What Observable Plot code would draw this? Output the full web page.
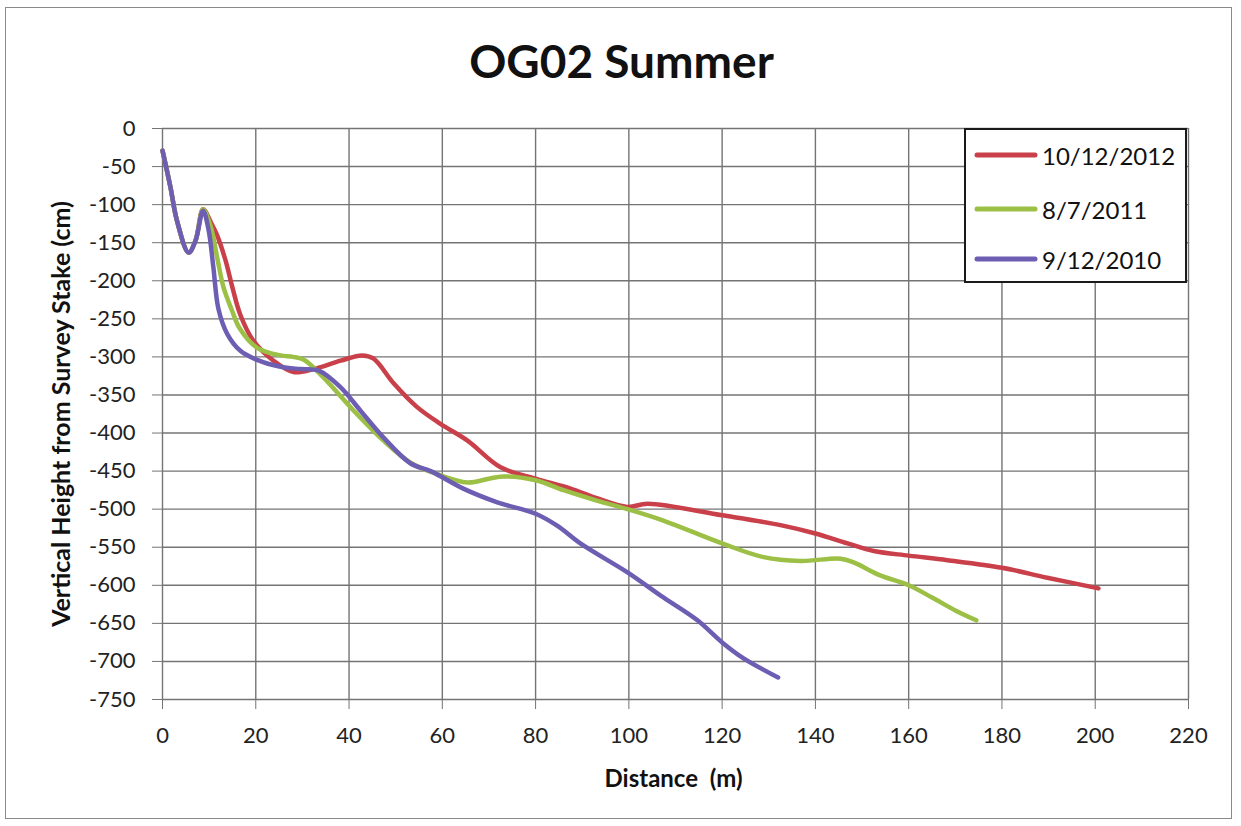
<!DOCTYPE html>
<html>
<head>
<meta charset="utf-8">
<script src="https://cdn.jsdelivr.net/npm/d3@7"></script>
<script src="https://cdn.jsdelivr.net/npm/@observablehq/plot@0.6"></script>
<style>
  html, body { margin: 0; padding: 0; background: #fff; }
  #wrap { position: relative; width: 1241px; height: 826px; font-family: Lato, "Open Sans", sans-serif; }
  #outer { position: absolute; left: 5px; top: 7px; width: 1227px; height: 812px; border: 1px solid #8a8a8a; box-sizing: border-box; }
  #chart { position: absolute; left: 0; top: 0; }
  #legend { position: absolute; left: 964px; top: 128px; width: 223px; height: 155px; border: 2px solid #1a1a1a; background: #fff; box-sizing: border-box; }
  .item { position: absolute; left: 8px; height: 30px; display: flex; align-items: center; font-size: 24px; color: #111; }
  .item svg { margin-right: 4px; }
</style>
</head>
<body>
<div id="wrap">
  <div id="outer"></div>
  <div id="chart"></div>
  <div id="legend"></div>
</div>
<script>
const title = "OG02 Summer";
const xLabel = "Distance\u00A0\u00A0(m)";
const yLabel = "Vertical Height from Survey Stake (cm)";
const xTicks = [0, 20, 40, 60, 80, 100, 120, 140, 160, 180, 200, 220];
const yTicks = [0, -50, -100, -150, -200, -250, -300, -350, -400, -450, -500, -550, -600, -650, -700, -750];
const seriesNames = ["10/12/2012", "8/7/2011", "9/12/2010"];
const seriesColors = ["#c9404a", "#9cbf45", "#6d5eb3"];

const s2012 = [[0,-29],[1.7,-77],[3.1,-121],[5.6,-163],[7.1,-147],[8.7,-106],[10.5,-125],[11.7,-140],[13.5,-173],[15,-209],[16.7,-245],[19.5,-279],[23.8,-305],[28.1,-320],[32.4,-316],[38.2,-305],[42.8,-298],[45.2,-302],[49.6,-335],[54.6,-366],[59.6,-388],[65.4,-410],[72.5,-445],[80,-460],[87.5,-473],[93.3,-486],[99.7,-497],[104,-493],[120,-508],[132.5,-521],[140,-532],[146.9,-545],[152.5,-555],[160,-561],[168.3,-567],[180,-577],[189.7,-590],[200.7,-604]];
const s2011 = [[0,-29],[1.7,-77],[3.1,-121],[5.6,-163],[7.1,-147],[8.7,-106],[10.4,-130],[11.8,-172],[13.1,-209],[14.9,-239],[16.5,-262],[20.3,-288],[25.3,-298],[28,-300],[30.4,-304],[34.5,-327],[40.3,-366],[47.4,-410],[53.2,-439],[58.9,-454],[65.4,-465],[70,-460],[73.1,-457],[80,-462],[86,-475],[93.3,-489],[99.7,-500],[107.4,-515],[120,-545],[128.9,-563],[136.8,-568],[145.4,-565],[148.2,-570],[153.9,-587],[160,-600],[165,-616],[170,-633],[174.5,-646]];
const s2010 = [[0,-29],[1.7,-77],[3.1,-121],[5.6,-163],[7.1,-147],[8.7,-108],[9.9,-134],[10.9,-182],[12,-237],[13.9,-270],[16.7,-292],[20.3,-304],[25.3,-313],[29.6,-316],[33.5,-318],[38.2,-340],[42.5,-371],[47.4,-406],[53.2,-440],[57.5,-450],[64.5,-473],[71.8,-491],[80,-506],[84.7,-522],[89.6,-545],[99.7,-583],[107.4,-616],[114.7,-646],[120,-675],[124.6,-696],[132,-721]];

const seriesData = [s2012, s2011, s2010];
const rows = seriesData.flatMap((s, i) => s.map(([x, y]) => ({x, y, series: seriesNames[i]})));

const gridColor = "#747474";

const chart = Plot.plot({
  width: 1241,
  height: 826,
  marginLeft: 162,
  marginRight: 53,
  marginTop: 128,
  marginBottom: 127,
  style: {fontFamily: "Lato, 'Open Sans', sans-serif", background: "transparent"},
  x: {domain: [0, 220], ticks: xTicks},
  y: {domain: [-750, 0], ticks: yTicks},
  color: {domain: seriesNames, range: seriesColors},
  marks: [
    Plot.gridX(xTicks, {stroke: gridColor, strokeOpacity: 1, strokeWidth: 1.4}),
    Plot.gridY(yTicks, {stroke: gridColor, strokeOpacity: 1, strokeWidth: 1.4}),
    Plot.axisX(xTicks, {tickSize: 10, tickPadding: 18, fontSize: 22, label: null, stroke: gridColor, color: "#222", tickFormat: d => String(d)}),
    Plot.axisY(yTicks, {tickSize: 10, tickPadding: 17, fontSize: 22, label: null, stroke: gridColor, color: "#222", tickFormat: d => String(d)}),
    Plot.line(rows, {x: "x", y: "y", z: "series", stroke: "series", strokeWidth: 4.5, curve: "catmull-rom", strokeLinecap: "round", strokeLinejoin: "round"}),
    Plot.text([title], {frameAnchor: "top", textAnchor: "middle", lineAnchor: "middle", dy: -65, dx: -54, fontSize: 46, fontWeight: "bold", fill: "#111"}),
    Plot.text([xLabel], {frameAnchor: "bottom", textAnchor: "middle", lineAnchor: "middle", dy: 80, dx: -2, fontSize: 24, fontWeight: "bold", fill: "#111"}),
    Plot.text([yLabel], {frameAnchor: "left", textAnchor: "middle", lineAnchor: "middle", dx: -101, rotate: -90, fontSize: 25, fontWeight: "bold", fill: "#111", letterSpacing: 0.8})
  ]
});
document.getElementById("chart").appendChild(chart);

const legend = document.getElementById("legend");
const itemTops = [10, 64, 114];
seriesNames.forEach((name, i) => {
  const div = document.createElement("div");
  div.className = "item";
  div.style.top = itemTops[i] + "px";
  div.innerHTML = `<svg width="64" height="10"><line x1="3" y1="5" x2="61" y2="5" stroke="${seriesColors[i]}" stroke-width="5" stroke-linecap="round"/></svg><span>${name}</span>`;
  legend.appendChild(div);
});
</script>
</body>
</html>
